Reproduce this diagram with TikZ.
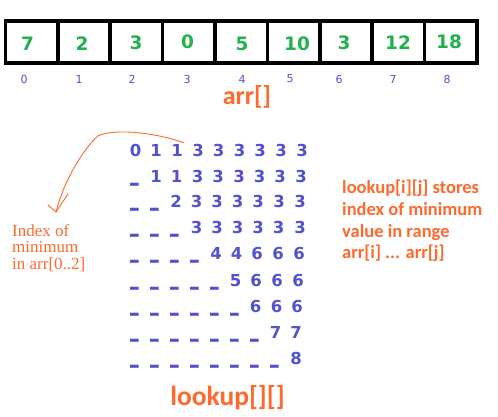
\documentclass[tikz,border=0pt]{standalone}
\usepackage{fontspec}
\setmainfont{DejaVu Sans}
\newfontfamily\dvs{DejaVu Sans}
\newfontfamily\carl{Carlito}
\newfontfamily\libser{Liberation Serif}
\definecolor{arrgreen}{RGB}{34,177,76}
\definecolor{matblue}{RGB}{82,82,208}
\definecolor{orng}{RGB}{255,105,45}
\tikzset{
  cell/.style={draw=black, line width=3.6pt, minimum width=52.39pt, minimum height=42pt, inner sep=0pt},
  val/.style={font=\dvs\bfseries\fontsize{18.5}{20}\selectfont, text=arrgreen, inner sep=0pt},
  idx/.style={font=\dvs\fontsize{11}{12}\selectfont, text=matblue, inner sep=0pt},
  mat/.style={font=\dvs\bfseries\fontsize{16.5}{18}\selectfont, text=matblue, anchor=base, inner sep=1pt},
  blank/.style={mat, inner sep=0pt},
  title/.style={font=\carl\bfseries\fontsize{26}{28}\selectfont, text=orng, inner sep=0pt},
  note/.style={font=\carl\bfseries\fontsize{18.5}{21.7}\selectfont, text=orng, align=left, inner sep=0pt, anchor=north west},
  lnote/.style={font=\libser\fontsize{17}{16.6}\selectfont, text=orng, align=left, inner sep=0pt, anchor=north west},
  pen/.style={draw=orng, line width=0.9pt, line cap=round}
}
\newcommand\lkrow[3]{%
  \foreach \x/\t [count=\c from #1] in {#3} {\node[mat] (m#1-\c) at (\x,{#2+6}) {\t};}%
  \ifnum#1>0
    \foreach \k [evaluate=\k as \ux using 135+20*(\k-1)] in {1,...,#1} {\node[blank] (u#1-\k) at (\ux,{#2+2}) {\scalebox{1.05}[2]{\_}};}%
  \fi
}
\begin{document}
\begin{tikzpicture}[x=1pt,y=-1pt]
\useasboundingbox[fill=white] (0,0) rectangle (498,416);
% array cells
\foreach \k in {0,...,8} {\node[cell] (c\k) at ({5.5+52.39*(\k+0.5)},42) {};}
% array values
\foreach \x/\yy/\t [count=\k from 0] in {27.5/44/7,82/44/2,136/43/3,187.5/42/0,242/43.5/5,297/43.5/10,344/43/3,398/43/12,449/41.5/18}
  {\node[val] (v\k) at (\x,\yy) {\t};}
% indices
\foreach \x/\t [count=\k from 0] in {24/0,79/1,132/2,187/3,242/4,290/5,339/6,393/7,447/8}
  {\node[idx] (i\k) at (\x,79) {\t};}
\node[title] (arr) at (247,97) {arr[]};
% lookup table
\lkrow{0}{150}{135.5/0,156/1,177/1,198/3,218.5/3,239.5/3,260/3,281/3,302/3}
\lkrow{1}{176}{156/1,176.5/1,197.5/3,218/3,239/3,259.5/3,280/3,301/3}
\lkrow{2}{201}{176/2,196.5/3,217/3,237.5/3,258/3,279/3,300/3}
\lkrow{3}{227}{196.5/3,217/3,237.5/3,258/3,278.5/3,300/3}
\lkrow{4}{253}{216/4,236.5/4,257/6,278/6,299/6}
\lkrow{5}{280}{235.5/5,256/6,277/6,298/6}
\lkrow{6}{306}{255.5/6,276.5/6,297/6}
\lkrow{7}{332}{275.5/7,296/7}
\lkrow{8}{358}{296/8}
\node[title, font=\carl\bfseries\fontsize{27.5}{29}\selectfont] (lookup) at (227.5,398) {lookup[][]};
\node[note] (desc) at (342,180) {lookup[i][j] stores\\index of minimum\\value in range\\arr[i] ... arr[j]};
\node[lnote] (lbl) at (12,224) {Index of\\minimum\\in arr[0..2]};
% hand-drawn arrow
\coordinate (tip) at (56,212);
\draw[pen] (m0-2.north east) .. controls (150,131) and (112,129) .. (98,136) .. controls (84,148) and (64,180) .. (tip);
\draw[pen] (tip) -- (48,205);
\draw[pen] (tip) -- (68,194);
\end{tikzpicture}
\end{document}
